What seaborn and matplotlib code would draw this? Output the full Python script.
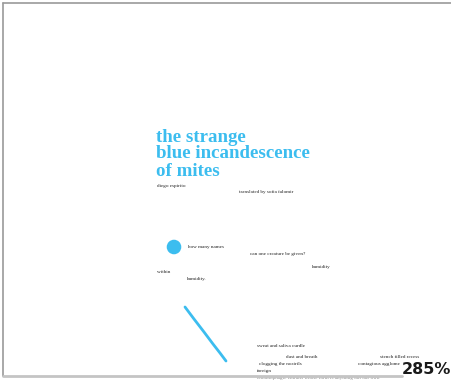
import pandas as pd
import seaborn as sns
import matplotlib.pyplot as plt

BLUE = "#3cbdef"
INK = "#222222"

title_lines = ["the strange", "blue incandescence", "of mites"]
title_y = [137, 154, 171]

poem_words = [
    "diego espirito", "translated by sofia falomir",
    "how many names", "can one creature be given?", "humidity",
    "within", "humidity.",
    "sweat and saliva curdle", "dust and breath", "stench filled recess",
    "clogging the nostrils", "contagious agglome", "foreign",
]
poem_x = [157, 239, 188, 250, 312, 157, 187, 257, 286, 380, 259, 358, 257]
poem_y = [186, 192, 247, 254, 267, 272, 279, 346, 357, 357, 364, 364, 371]

cut_line = "entomophagic entrails whose form is anything but our own"

# the blue dot and the scratched stroke
dot = pd.DataFrame({"x": [174], "y": [247]})
stroke = pd.DataFrame({
    "x": [185, 194, 204, 213, 220, 226],
    "y": [307, 319, 332, 344, 353, 361],
})

zoom_label = "285%"

sns.set_style("white")
plt.rcParams["font.family"] = ["Liberation Serif", "DejaVu Serif"]

fig = plt.figure(figsize=(4.52, 3.81), dpi=100)
ax = fig.add_axes([0, 0, 1, 1])
ax.set_xlim(0, 452)
ax.set_ylim(381, 0)
ax.axis("off")

for line, y in zip(title_lines, title_y):
    ax.text(156, y, line, color=BLUE, fontsize=13.6, fontweight="bold",
            va="center", ha="left")

for word, x, y in zip(poem_words, poem_x, poem_y):
    ax.text(x, y, word, color=INK, fontsize=3.7, va="center", ha="left")

ax.text(257, 378, cut_line, color="#888888", fontsize=3.7, va="center", ha="left")

sns.scatterplot(data=dot, x="x", y="y", s=110, color=BLUE, edgecolor="none", ax=ax)
sns.lineplot(data=stroke, x="x", y="y", sort=False, color=BLUE, linewidth=2, ax=ax)

# page frame
ax.plot([3, 452], [3, 3], color="#9a9a9a", lw=1.2)
ax.plot([3, 3], [3, 376], color="#9a9a9a", lw=1.2)
ax.plot([3, 402], [376, 376], color="#c4c4c4", lw=2, zorder=5)

ax.text(451, 369, zoom_label, color="#1a1a1a", fontsize=11.5, fontweight="bold",
        family="DejaVu Sans", va="center", ha="right")

ax.set_xlabel("")
ax.set_ylabel("")
plt.savefig("out.png", dpi=100)
